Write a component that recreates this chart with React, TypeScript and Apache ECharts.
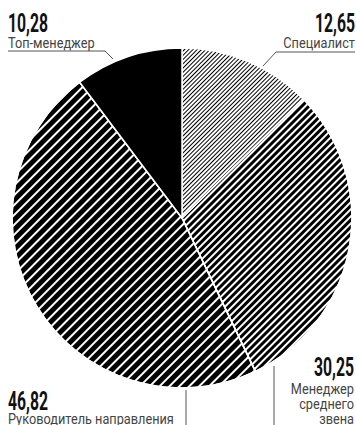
import React, { useEffect, useRef } from "react";
import * as echarts from "echarts";

const categories = ["Специалист", "Менеджер среднего звена", "Руководитель направления", "Топ-менеджер"];
const values = [12.65, 30.25, 46.82, 10.28];
const nameLines = ["Специалист", "Менеджер\nсреднего\nзвена", "Руководитель направления", "Топ-менеджер"];

const fmt = (v: number) => v.toFixed(2).replace(".", ",");

// label placement (layout only)
const labelLayout = [
  { x: 355, align: "right", valueY: 23.5, nameY: 36, line: [[355, 52], [276, 52], [263, 66]] },
  { x: 354, align: "right", valueY: 367.5, nameY: 382, line: [[274, 366], [274, 430]] },
  { x: 8, align: "left", valueY: 401.5, nameY: 412, line: [[186, 390], [186, 430]] },
  { x: 8, align: "left", valueY: 24, nameY: 35.5, line: [[8, 51], [105, 51], [113, 59]] },
];

const decals: any[] = [
  { color: "#fff", decal: { color: "#000", symbol: "rect", symbolSize: 1, dashArrayX: [1, 0], dashArrayY: [1, 2], rotation: -Math.PI / 4 } },
  { color: "#000", decal: { color: "#fff", symbol: "rect", symbolSize: 1, dashArrayX: [1, 0], dashArrayY: [2, 3], rotation: -Math.PI / 4 } },
  { color: "#000", decal: { color: "#fff", symbol: "rect", symbolSize: 1, dashArrayX: [1, 0], dashArrayY: [2, 5], rotation: -Math.PI / 4 } },
  { color: "#000", decal: null },
];

export default function App() {
  const ref = useRef<HTMLDivElement>(null);
  useEffect(() => {
    if (!ref.current) return;
    const chart = echarts.init(ref.current, null, { renderer: "svg" });
    const graphics: any[] = [];
    categories.forEach((c, i) => {
      const L = labelLayout[i];
      graphics.push({
        type: "polyline",
        shape: { points: L.line },
        style: { stroke: "#555", lineWidth: 1, fill: null },
        silent: true,
      });
      graphics.push({
        type: "text",
        x: L.x,
        y: L.valueY,
        scaleX: 0.63,
        style: {
          text: fmt(values[i]),
          font: "bold 25px Roboto",
          fill: "#111",
          align: L.align,
          verticalAlign: "middle",
        },
        silent: true,
      });
      graphics.push({
        type: "text",
        x: L.x,
        y: L.nameY,
        scaleX: 0.91,
        style: {
          text: nameLines[i],
          font: "14px Roboto",
          lineHeight: 15,
          fill: "#444",
          align: L.align,
          verticalAlign: "top",
        },
        silent: true,
      });
    });
    chart.setOption({
      animation: false,
      backgroundColor: "#fff",
      series: [
        {
          type: "pie",
          center: [182, 218],
          radius: 170,
          startAngle: 90,
          clockwise: true,
          silent: true,
          label: { show: false },
          labelLine: { show: false },
          itemStyle: { borderColor: "#fff", borderWidth: 1.5 },
          data: categories.map((c, i) => ({
            name: c,
            value: values[i],
            itemStyle: decals[i].decal
              ? { color: decals[i].color, decal: decals[i].decal }
              : { color: decals[i].color },
          })),
        },
      ],
      graphic: graphics,
    });
    return () => chart.dispose();
  }, []);
  return (
    <div
      ref={ref}
      style={{ position: "fixed", left: 0, top: 0, width: 356, height: 425 }}
    />
  );
}
